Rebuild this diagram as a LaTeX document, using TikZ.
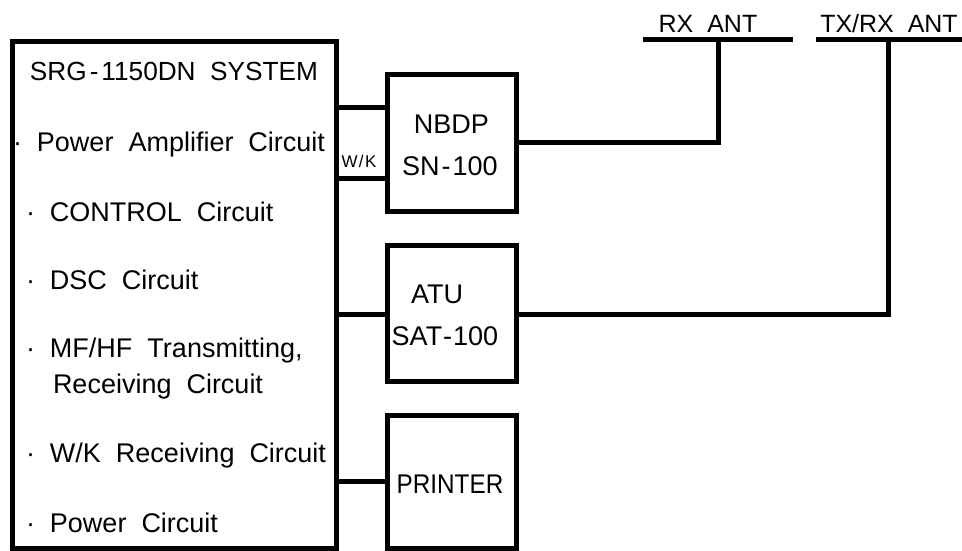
\documentclass[tikz,border=0pt]{standalone}
\usepackage{fontspec}
\setmainfont[WordSpace=2]{Liberation Sans}
\begin{document}
\begin{tikzpicture}[x=1pt,y=-1pt,line width=5pt,
  box/.style={draw,rectangle,inner sep=0pt,outer sep=0pt},
  txt/.style={inner sep=0pt,outer sep=0pt,font=\fontsize{27}{32}\selectfont},
  ttl/.style={inner sep=0pt,outer sep=0pt,font=\fontsize{26.2}{30}\selectfont},
  small/.style={inner sep=0pt,outer sep=0pt,font=\fontsize{17}{20}\selectfont\addfontfeature{LetterSpace=8}},
  ant/.style={inner sep=0pt,outer sep=0pt,font=\fontsize{25}{30}\selectfont}]
\useasboundingbox (0,0) rectangle (962,550);
% boxes
\node[box,minimum width=324pt,minimum height=507pt] (sys) at (174,294.5) {};
\node[box,minimum width=129pt,minimum height=137pt] (nbdp) at (451.5,142.5) {};
\node[box,minimum width=129pt,minimum height=136pt] (atu) at (451.5,313) {};
\node[box,minimum width=129pt,minimum height=133pt] (prn) at (451.5,481.5) {};
% system texts
\node[ttl,anchor=base west] (title) at (30,80) {SRG\hspace{3pt}-\hspace{3pt}1150DN SYSTEM};
\node[txt,anchor=base west] (pa) at (13,151) {· Power Amplifier Circuit};
\node[txt,anchor=base west] (ctl) at (26,221) {· CONTROL Circuit};
\node[txt,anchor=base west] (dsc) at (26,289) {· DSC Circuit};
\node[txt,anchor=base west] (mf) at (26,357) {· MF/HF Transmitting,};
\node[txt,anchor=base west] (rc) at (53,393) {Receiving Circuit};
\node[txt,anchor=base west] (wkr) at (26,462) {· W/K Receiving Circuit};
\node[txt,anchor=base west] (pw) at (26,532) {· Power Circuit};
% unit texts
\node[txt,anchor=base] (t1) at (451.5,133) {NBDP};
\node[txt,anchor=base] (t2) at (450,175) {SN\hspace{2pt}-\hspace{2pt}100};
\node[txt,anchor=base] (t3) at (437,303) {ATU};
\node[txt,anchor=base] (t4) at (445,345) {SAT\hspace{1pt}-\hspace{1pt}100};
\node[txt,anchor=base] (t5) at (450,493) {\scalebox{0.9}[1]{PRINTER}};
\node[small,anchor=base] (wk) at (359,167) {W/K};
% antennas
\coordinate (rxL) at (643,39);
\coordinate (rxR) at (793,39);
\coordinate (rxant) at (718,39);
\coordinate (txL) at (816,39);
\coordinate (txR) at (962,39);
\coordinate (txant) at (888,39);
\draw (rxL) -- (rxR);
\draw (txL) -- (txR);
\node[ant,anchor=base] (rxlab) at (708,32) {RX ANT};
\node[ant,anchor=base] (txlab) at (889,32) {TX/RX ANT};
% connector levels
\coordinate (y1) at (0,107);
\coordinate (y2) at (0,178);
\coordinate (y3) at (0,142);
\coordinate (y4) at (0,314);
\coordinate (y5) at (0,481);
\draw (sys.east |- y1) -- (nbdp.west |- y1);
\draw (sys.east |- y2) -- (nbdp.west |- y2);
\draw (nbdp.east |- y3) -| (rxant);
\draw (sys.east |- y4) -- (atu.west |- y4);
\draw (atu.east |- y4) -| (txant);
\draw (sys.east |- y5) -- (prn.west |- y5);
\end{tikzpicture}
\end{document}
